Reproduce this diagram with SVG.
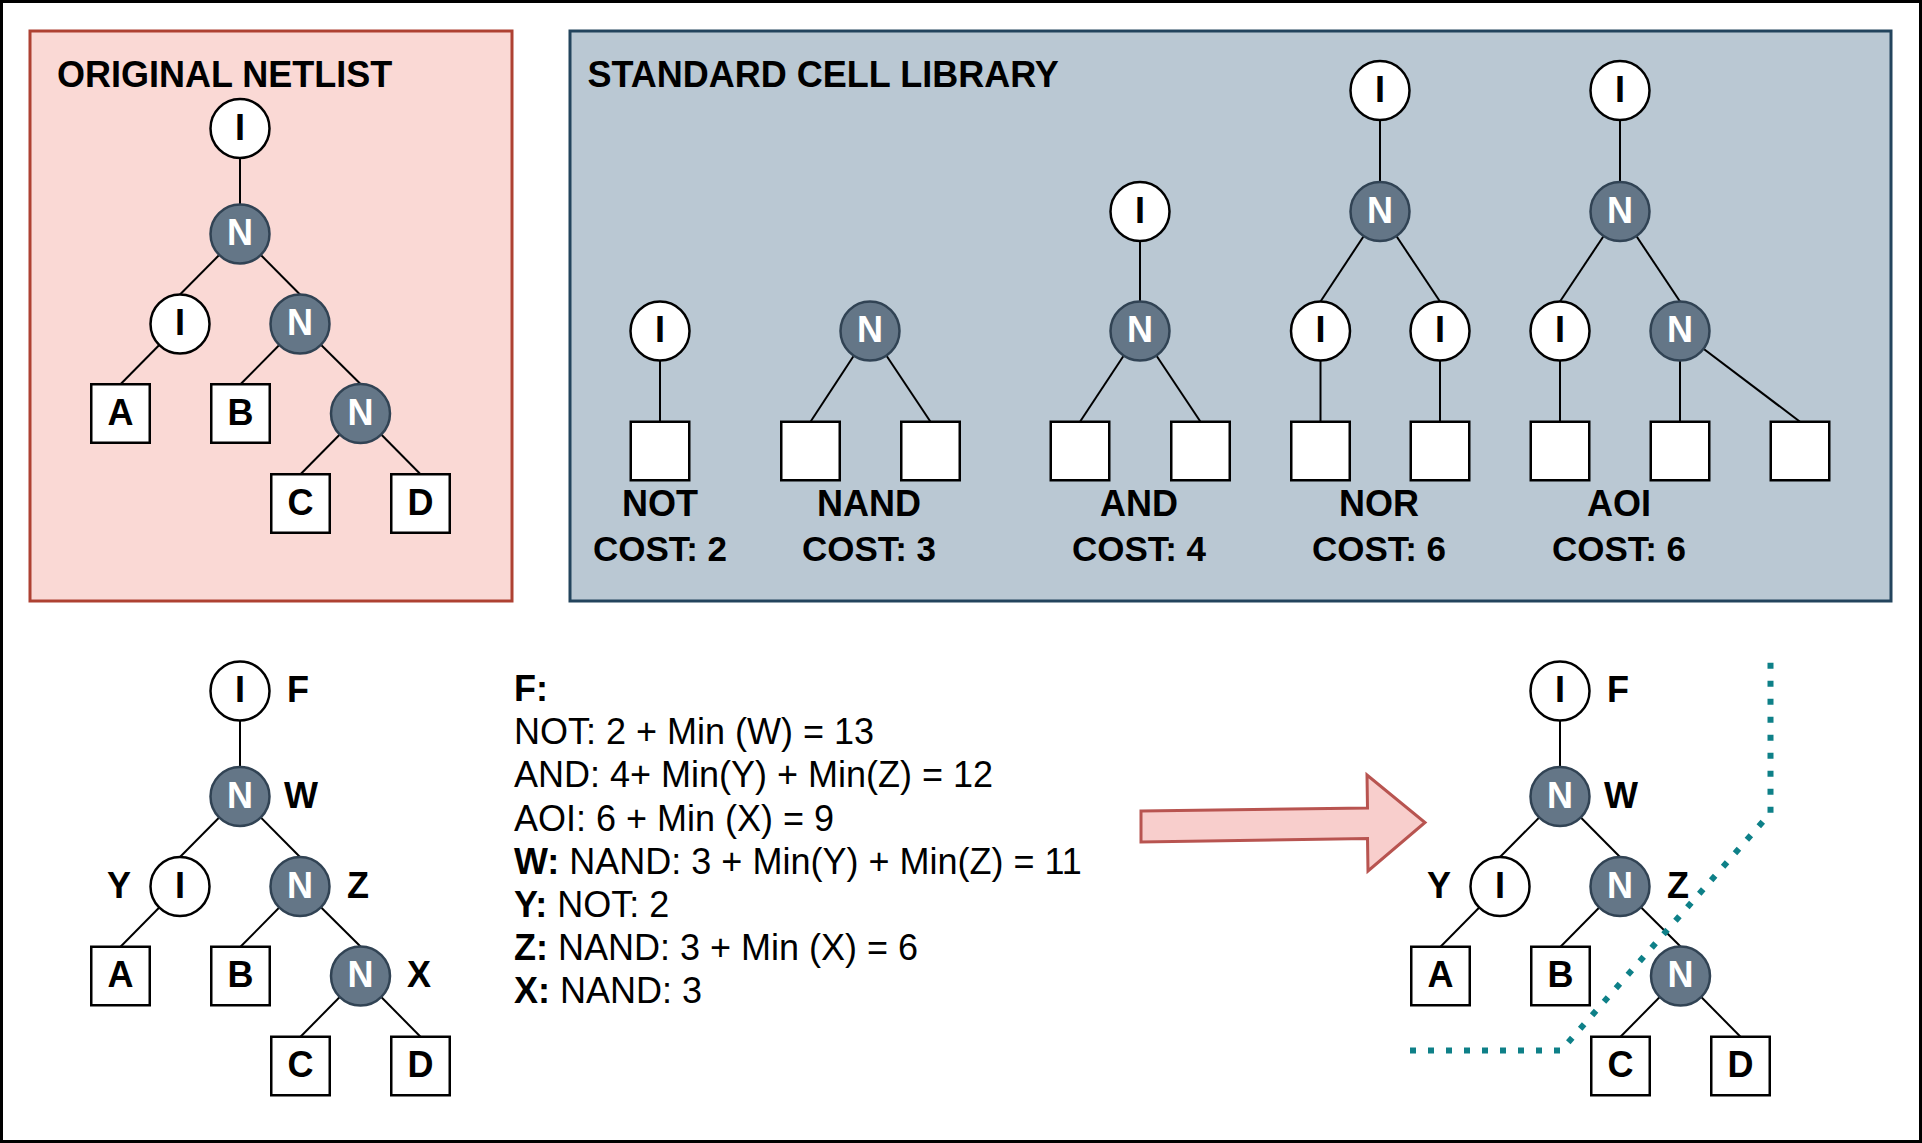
<svg xmlns="http://www.w3.org/2000/svg" width="1922" height="1143" viewBox="0 0 1922 1143">
<style>
.ci{fill:#ffffff;stroke:#000000;stroke-width:2.5}
.cn{fill:#647687;stroke:#314354;stroke-width:2.5}
.bx{fill:#ffffff;stroke:#000000;stroke-width:2.5}
.t{font-family:"Liberation Sans",Arial,sans-serif;font-size:36px;font-weight:bold;text-anchor:middle;fill:#000000}
.tw{fill:#ffffff}
.ts{text-anchor:start}
.te{text-anchor:end}
.cost{font-size:35px}
.body{font-family:"Liberation Sans",Arial,sans-serif;font-size:36px;fill:#000000}
.b{font-weight:bold}
.edge line{stroke:#000000;stroke-width:2}
</style>
<rect x="0" y="0" width="1922" height="1143" fill="#ffffff"/>
<rect x="1.5" y="1.5" width="1919" height="1140" fill="none" stroke="#000000" stroke-width="3"/>

<g id="panel-original">
<rect x="30" y="31" width="482" height="570" fill="#fad9d5" stroke="#ae4132" stroke-width="3"/>
<text class="t ts" x="57" y="86.5">ORIGINAL NETLIST</text>
</g>
<g id="panel-library">
<rect x="570" y="31" width="1321" height="570" fill="#bac8d3" stroke="#23445d" stroke-width="3"/>
<text class="t ts" x="587.5" y="87">STANDARD CELL LIBRARY</text>
</g>

<g id="connectors" class="edge">
<!-- original netlist -->
<line x1="240" y1="128.5" x2="240" y2="234"/>
<line x1="240" y1="234" x2="180" y2="294.5"/>
<line x1="240" y1="234" x2="300" y2="294.5"/>
<line x1="180" y1="324" x2="120.5" y2="384.25"/>
<line x1="300" y1="324" x2="240.5" y2="384.25"/>
<line x1="300" y1="324" x2="360.5" y2="384"/>
<line x1="360.5" y1="413.5" x2="300.5" y2="474.25"/>
<line x1="360.5" y1="413.5" x2="420.5" y2="474.25"/>
<!-- library -->
<line x1="660" y1="331" x2="660" y2="421.75"/>
<line x1="870" y1="331" x2="810.5" y2="421.75"/>
<line x1="870" y1="331" x2="930.5" y2="421.75"/>
<line x1="1140" y1="211.5" x2="1140" y2="331"/>
<line x1="1140" y1="331" x2="1080" y2="421.75"/>
<line x1="1140" y1="331" x2="1200.5" y2="421.75"/>
<line x1="1380" y1="90.5" x2="1380" y2="211.5"/>
<line x1="1380" y1="211.5" x2="1320.5" y2="301.5"/>
<line x1="1380" y1="211.5" x2="1440" y2="301.5"/>
<line x1="1320.5" y1="331" x2="1320.5" y2="421.75"/>
<line x1="1440" y1="331" x2="1440" y2="421.75"/>
<line x1="1620" y1="90.5" x2="1620" y2="211.5"/>
<line x1="1620" y1="211.5" x2="1560" y2="301.5"/>
<line x1="1620" y1="211.5" x2="1680" y2="301.5"/>
<line x1="1560" y1="331" x2="1560" y2="421.75"/>
<line x1="1680" y1="331" x2="1680" y2="421.75"/>
<line x1="1680" y1="331" x2="1800" y2="421.75"/>
<!-- bottom-left tree -->
<line x1="240" y1="691" x2="240" y2="796.5"/>
<line x1="240" y1="796.5" x2="180" y2="857"/>
<line x1="240" y1="796.5" x2="300" y2="857"/>
<line x1="180" y1="886.5" x2="120.5" y2="946.75"/>
<line x1="300" y1="886.5" x2="240.5" y2="946.75"/>
<line x1="300" y1="886.5" x2="360.5" y2="946.5"/>
<line x1="360.5" y1="976" x2="300.5" y2="1036.75"/>
<line x1="360.5" y1="976" x2="420.5" y2="1036.75"/>
<!-- right tree -->
<line x1="1560" y1="691" x2="1560" y2="796.5"/>
<line x1="1560" y1="796.5" x2="1500" y2="857"/>
<line x1="1560" y1="796.5" x2="1620" y2="857"/>
<line x1="1500" y1="886.5" x2="1440.5" y2="946.75"/>
<line x1="1620" y1="886.5" x2="1560.5" y2="946.75"/>
<line x1="1620" y1="886.5" x2="1680.5" y2="946.5"/>
<line x1="1680.5" y1="976" x2="1620.5" y2="1036.75"/>
<line x1="1680.5" y1="976" x2="1740.5" y2="1036.75"/>
</g>

<!-- original netlist nodes -->
<g id="on-i1"><circle class="ci" cx="240" cy="128.5" r="29.5"/><text class="t" x="240" y="139.5">I</text></g>
<g id="on-n1"><circle class="cn" cx="240" cy="234" r="29.5"/><text class="t tw" x="240" y="245">N</text></g>
<g id="on-i2"><circle class="ci" cx="180" cy="324" r="29.5"/><text class="t" x="180" y="335">I</text></g>
<g id="on-n2"><circle class="cn" cx="300" cy="324" r="29.5"/><text class="t tw" x="300" y="335">N</text></g>
<g id="on-a"><rect class="bx" x="91.25" y="384.25" width="58.5" height="58.5"/><text class="t" x="120.5" y="424.5">A</text></g>
<g id="on-b"><rect class="bx" x="211.25" y="384.25" width="58.5" height="58.5"/><text class="t" x="240.5" y="424.5">B</text></g>
<g id="on-n3"><circle class="cn" cx="360.5" cy="413.5" r="29.5"/><text class="t tw" x="360.5" y="424.5">N</text></g>
<g id="on-c"><rect class="bx" x="271.25" y="474.25" width="58.5" height="58.5"/><text class="t" x="300.5" y="514.5">C</text></g>
<g id="on-d"><rect class="bx" x="391.25" y="474.25" width="58.5" height="58.5"/><text class="t" x="420.5" y="514.5">D</text></g>

<!-- library: NOT -->
<g id="lib-not-i"><circle class="ci" cx="660" cy="331" r="29.5"/><text class="t" x="660" y="342">I</text></g>
<g id="lib-not-in"><rect class="bx" x="630.75" y="421.75" width="58.5" height="58.5"/></g>
<g id="lib-not-label"><text class="t" x="660" y="516">NOT</text><text class="t cost" x="660" y="560.5">COST: 2</text></g>
<!-- NAND -->
<g id="lib-nand-n"><circle class="cn" cx="870" cy="331" r="29.5"/><text class="t tw" x="870" y="342">N</text></g>
<g id="lib-nand-in1"><rect class="bx" x="781.25" y="421.75" width="58.5" height="58.5"/></g>
<g id="lib-nand-in2"><rect class="bx" x="901.25" y="421.75" width="58.5" height="58.5"/></g>
<g id="lib-nand-label"><text class="t" x="869" y="516">NAND</text><text class="t cost" x="869" y="560.5">COST: 3</text></g>
<!-- AND -->
<g id="lib-and-i"><circle class="ci" cx="1140" cy="211.5" r="29.5"/><text class="t" x="1140" y="222.5">I</text></g>
<g id="lib-and-n"><circle class="cn" cx="1140" cy="331" r="29.5"/><text class="t tw" x="1140" y="342">N</text></g>
<g id="lib-and-in1"><rect class="bx" x="1050.75" y="421.75" width="58.5" height="58.5"/></g>
<g id="lib-and-in2"><rect class="bx" x="1171.25" y="421.75" width="58.5" height="58.5"/></g>
<g id="lib-and-label"><text class="t" x="1139" y="516">AND</text><text class="t cost" x="1139" y="560.5">COST: 4</text></g>
<!-- NOR -->
<g id="lib-nor-i"><circle class="ci" cx="1380" cy="90.5" r="29.5"/><text class="t" x="1380" y="101.5">I</text></g>
<g id="lib-nor-n"><circle class="cn" cx="1380" cy="211.5" r="29.5"/><text class="t tw" x="1380" y="222.5">N</text></g>
<g id="lib-nor-i1"><circle class="ci" cx="1320.5" cy="331" r="29.5"/><text class="t" x="1320.5" y="342">I</text></g>
<g id="lib-nor-i2"><circle class="ci" cx="1440" cy="331" r="29.5"/><text class="t" x="1440" y="342">I</text></g>
<g id="lib-nor-in1"><rect class="bx" x="1291.25" y="421.75" width="58.5" height="58.5"/></g>
<g id="lib-nor-in2"><rect class="bx" x="1410.75" y="421.75" width="58.5" height="58.5"/></g>
<g id="lib-nor-label"><text class="t" x="1379" y="516">NOR</text><text class="t cost" x="1379" y="560.5">COST: 6</text></g>
<!-- AOI -->
<g id="lib-aoi-i"><circle class="ci" cx="1620" cy="90.5" r="29.5"/><text class="t" x="1620" y="101.5">I</text></g>
<g id="lib-aoi-n"><circle class="cn" cx="1620" cy="211.5" r="29.5"/><text class="t tw" x="1620" y="222.5">N</text></g>
<g id="lib-aoi-i1"><circle class="ci" cx="1560" cy="331" r="29.5"/><text class="t" x="1560" y="342">I</text></g>
<g id="lib-aoi-n1"><circle class="cn" cx="1680" cy="331" r="29.5"/><text class="t tw" x="1680" y="342">N</text></g>
<g id="lib-aoi-in1"><rect class="bx" x="1530.75" y="421.75" width="58.5" height="58.5"/></g>
<g id="lib-aoi-in2"><rect class="bx" x="1650.75" y="421.75" width="58.5" height="58.5"/></g>
<g id="lib-aoi-in3"><rect class="bx" x="1770.75" y="421.75" width="58.5" height="58.5"/></g>
<g id="lib-aoi-label"><text class="t" x="1619" y="516">AOI</text><text class="t cost" x="1619" y="560.5">COST: 6</text></g>

<!-- bottom-left tree -->
<g id="bl-f"><circle class="ci" cx="240" cy="691" r="29.5"/><text class="t" x="240" y="702">I</text><text class="t ts" x="287" y="702">F</text></g>
<g id="bl-w"><circle class="cn" cx="240" cy="796.5" r="29.5"/><text class="t tw" x="240" y="807.5">N</text><text class="t ts" x="284" y="807.5">W</text></g>
<g id="bl-y"><circle class="ci" cx="180" cy="886.5" r="29.5"/><text class="t" x="180" y="897.5">I</text><text class="t te" x="131" y="897.5">Y</text></g>
<g id="bl-z"><circle class="cn" cx="300" cy="886.5" r="29.5"/><text class="t tw" x="300" y="897.5">N</text><text class="t ts" x="347" y="897.5">Z</text></g>
<g id="bl-a"><rect class="bx" x="91.25" y="946.75" width="58.5" height="58.5"/><text class="t" x="120.5" y="987">A</text></g>
<g id="bl-b"><rect class="bx" x="211.25" y="946.75" width="58.5" height="58.5"/><text class="t" x="240.5" y="987">B</text></g>
<g id="bl-x"><circle class="cn" cx="360.5" cy="976" r="29.5"/><text class="t tw" x="360.5" y="987">N</text><text class="t ts" x="407" y="987">X</text></g>
<g id="bl-c"><rect class="bx" x="271.25" y="1036.75" width="58.5" height="58.5"/><text class="t" x="300.5" y="1077">C</text></g>
<g id="bl-d"><rect class="bx" x="391.25" y="1036.75" width="58.5" height="58.5"/><text class="t" x="420.5" y="1077">D</text></g>

<!-- cost computation text -->
<g id="cost-text" class="body">
<text x="514" y="701"><tspan class="b">F:</tspan></text>
<text x="514" y="744.2">NOT: 2 + Min (W) = 13</text>
<text x="514" y="787.4">AND: 4+ Min(Y) + Min(Z) = 12</text>
<text x="514" y="830.6">AOI: 6 + Min (X) = 9</text>
<text x="514" y="873.8"><tspan class="b">W:</tspan> NAND: 3 + Min(Y) + Min(Z) = 11</text>
<text x="514" y="917"><tspan class="b">Y:</tspan> NOT: 2</text>
<text x="514" y="960.2"><tspan class="b">Z:</tspan> NAND: 3 + Min (X) = 6</text>
<text x="514" y="1003.4"><tspan class="b">X:</tspan> NAND: 3</text>
</g>

<!-- big arrow -->
<g id="arrow">
<polygon points="1141,811 1367.5,808 1367,775 1425,822.5 1368,871 1367.5,838.5 1141,842" fill="#f8cecc" stroke="#b85450" stroke-width="3"/>
</g>

<!-- right tree -->
<g id="rt-f"><circle class="ci" cx="1560" cy="691" r="29.5"/><text class="t" x="1560" y="702">I</text><text class="t ts" x="1607" y="702">F</text></g>
<g id="rt-w"><circle class="cn" cx="1560" cy="796.5" r="29.5"/><text class="t tw" x="1560" y="807.5">N</text><text class="t ts" x="1604" y="807.5">W</text></g>
<g id="rt-y"><circle class="ci" cx="1500" cy="886.5" r="29.5"/><text class="t" x="1500" y="897.5">I</text><text class="t te" x="1451" y="897.5">Y</text></g>
<g id="rt-z"><circle class="cn" cx="1620" cy="886.5" r="29.5"/><text class="t tw" x="1620" y="897.5">N</text><text class="t ts" x="1667" y="897.5">Z</text></g>
<g id="rt-a"><rect class="bx" x="1411.25" y="946.75" width="58.5" height="58.5"/><text class="t" x="1440.5" y="987">A</text></g>
<g id="rt-b"><rect class="bx" x="1531.25" y="946.75" width="58.5" height="58.5"/><text class="t" x="1560.5" y="987">B</text></g>
<g id="rt-x"><circle class="cn" cx="1680.5" cy="976" r="29.5"/><text class="t tw" x="1680.5" y="987">N</text></g>
<g id="rt-c"><rect class="bx" x="1591.25" y="1036.75" width="58.5" height="58.5"/><text class="t" x="1620.5" y="1077">C</text></g>
<g id="rt-d"><rect class="bx" x="1711.25" y="1036.75" width="58.5" height="58.5"/><text class="t" x="1740.5" y="1077">D</text></g>

<!-- cut line -->
<g id="cut-line">
<path d="M1410,1050.5 L1561,1050.5 L1770.5,813 L1770.5,661" fill="none" stroke="#0e8088" stroke-width="6" stroke-dasharray="6 12"/>
</g>
</svg>
